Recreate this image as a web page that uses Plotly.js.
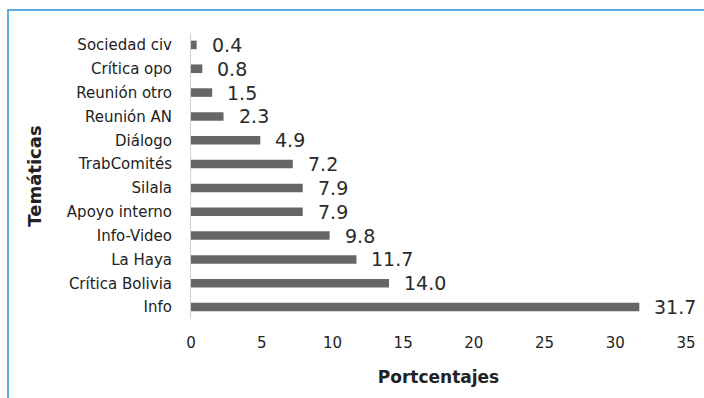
<!DOCTYPE html>
<html><head><meta charset="utf-8">
<script src="https://cdn.plot.ly/plotly-3.0.1.min.js"></script>
<style>html,body{margin:0;padding:0;background:#fff}#c{width:704px;height:398px}</style>
</head><body><div id="c"></div>
<script>
const categories = ["Info","Crítica Bolivia","La Haya","Info-Video","Apoyo interno","Silala","TrabComités","Diálogo","Reunión AN","Reunión otro","Crítica opo","Sociedad civ"];
const values = [31.7,14.0,11.7,9.8,7.9,7.9,7.2,4.9,2.3,1.5,0.8,0.4];
const xTicks = [0,5,10,15,20,25,30,35];

const L=191,R=686,T=33,B=319,W=704,H=398;
const px = x => (x-L)/(R-L);
const py = y => (B-y)/(B-T);

const annotations = categories.map((c,i)=>({
  x: values[i], y: c, xref:'x', yref:'y', text: values[i].toFixed(1),
  showarrow:false, xanchor:'left', xshift:13, yshift:0,
  font:{family:'DejaVu Sans, sans-serif', size:19, color:'#2a2a2a'}
}));

Plotly.newPlot('c',[{
  type:'bar', orientation:'h', y:categories, x:values, width:0.36,
  marker:{color:'#666668', line:{width:0}}, hoverinfo:'none'
}],{
  width:W, height:H,
  margin:{l:L,r:W-R,t:T,b:H-B,pad:0},
  paper_bgcolor:'#fff', plot_bgcolor:'#fff',
  showlegend:false, bargap:0.6,
  font:{family:'DejaVu Sans, sans-serif', color:'#222'},
  xaxis:{range:[0,35], tickvals:xTicks, ticktext:xTicks.map(String), showgrid:false, zeroline:false,
    showline:false, ticks:'', tickfont:{size:15,color:'#222'}, ticklabelstandoff:13,
    title:{text:'<b>Portcentajes</b>', font:{size:17,color:'#222'}, standoff:20}},
  yaxis:{type:'category', categoryorder:'array', categoryarray:categories, range:[-0.5,11.5],
    showgrid:false, zeroline:false, showline:true, linecolor:'#d0d0d0', linewidth:1, ticks:'',
    tickfont:{size:15,color:'#222'}, ticklabelstandoff:15,
    title:{text:'<b>Temáticas</b>', font:{size:18,color:'#222'}, standoff:20}},
  annotations: annotations,
  shapes:[
    {type:'line', xref:'paper', yref:'paper', x0:px(8), x1:px(8), y0:py(10), y1:py(400), line:{color:'#5aaede', width:2}},
    {type:'line', xref:'paper', yref:'paper', x0:px(7), x1:px(706), y0:py(10), y1:py(10), line:{color:'#5aaede', width:2}}
  ]
},{staticPlot:true});
</script></body></html>
